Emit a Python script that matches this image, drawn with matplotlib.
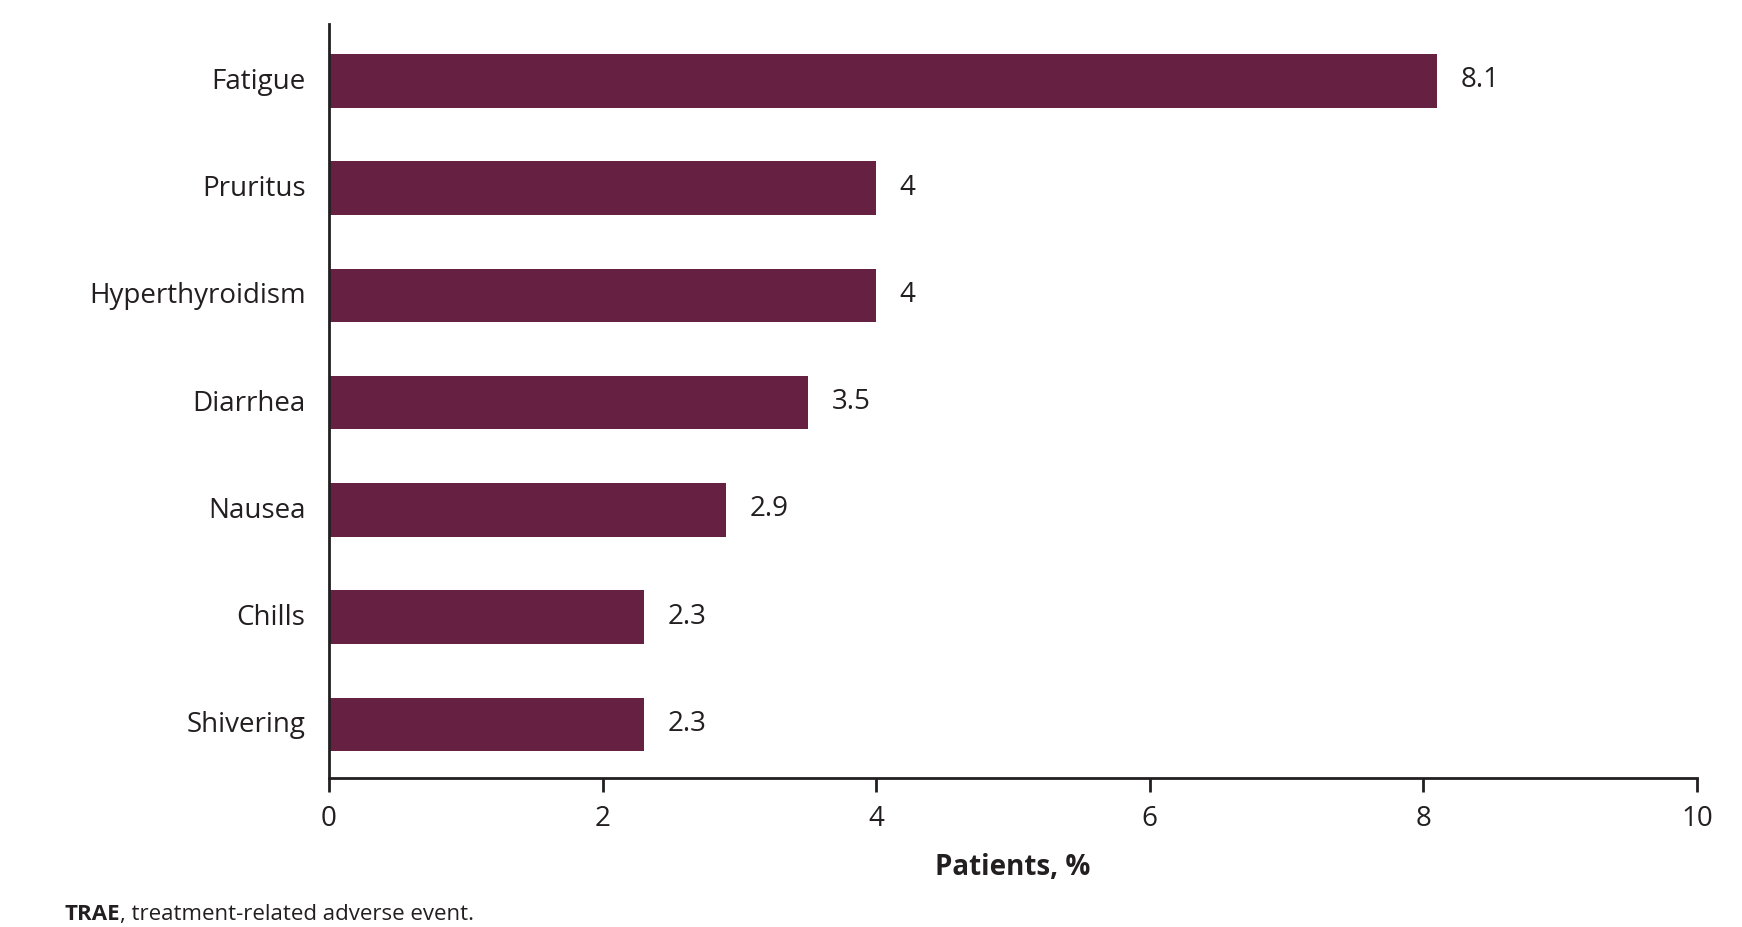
import matplotlib
matplotlib.use("Agg")
import matplotlib.pyplot as plt
import matplotlib.transforms as mtransforms

categories = ["Fatigue", "Pruritus", "Hyperthyroidism", "Diarrhea", "Nausea", "Chills", "Shivering"]
values = [8.1, 4, 4, 3.5, 2.9, 2.3, 2.3]
value_labels = ["8.1", "4", "4", "3.5", "2.9", "2.3", "2.3"]
x_ticks = [0, 2, 4, 6, 8, 10]

plt.rcParams['font.family'] = ['Open Sans', 'DejaVu Sans']

W, H = 1742, 928
fig = plt.figure(figsize=(W / 100, H / 100), dpi=100)
left, right, top, bottom = 329, 1697, 25, 779
ax = fig.add_axes([left / W, 1 - bottom / H, (right - left) / W, (bottom - top) / H])

bar_color = "#662142"
text_color = "#231f20"
ypos = list(range(len(categories)))
ax.barh(ypos, values, height=0.5, color=bar_color)
ax.set_ylim(len(categories) - 0.5, -0.53)
ax.set_xlim(0, 10)
ax.set_yticks(ypos)
ax.set_yticklabels(categories, fontsize=20, color=text_color)
ax.set_xticks(x_ticks)
ax.set_xticklabels([str(t) for t in x_ticks], fontsize=20, color=text_color)
ax.tick_params(axis='y', length=0, pad=17)
ax.tick_params(axis='x', length=10, width=2, direction='out', color=text_color, pad=9)

# nudge y tick labels up slightly so they sit centred on the bars
shift = mtransforms.ScaledTranslation(0, 3.5 / 100, fig.dpi_scale_trans)
for lab in ax.get_yticklabels():
    lab.set_transform(lab.get_transform() + shift)

for s in ['top', 'right']:
    ax.spines[s].set_visible(False)
for s in ['left', 'bottom']:
    ax.spines[s].set_linewidth(2)
    ax.spines[s].set_color(text_color)

for y, v, lab in zip(ypos, values, value_labels):
    ax.annotate(lab, xy=(v, y), xytext=(17, 1), textcoords='offset points',
                va='center', ha='left', fontsize=20, color=text_color)

ax.set_xlabel("Patients, %", fontsize=20, fontweight='bold', color=text_color, labelpad=14)

foot_y = 1 - 915 / H
t = fig.text(64 / W, foot_y, "TRAE", fontsize=16, fontweight='bold', color=text_color,
             va='center', ha='left')
fig.canvas.draw()
bb = t.get_window_extent()
fig.text(bb.x1 / W, foot_y, ", treatment-related adverse event.", fontsize=16, color=text_color,
         va='center', ha='left')

fig.savefig("out.png", dpi=100)
